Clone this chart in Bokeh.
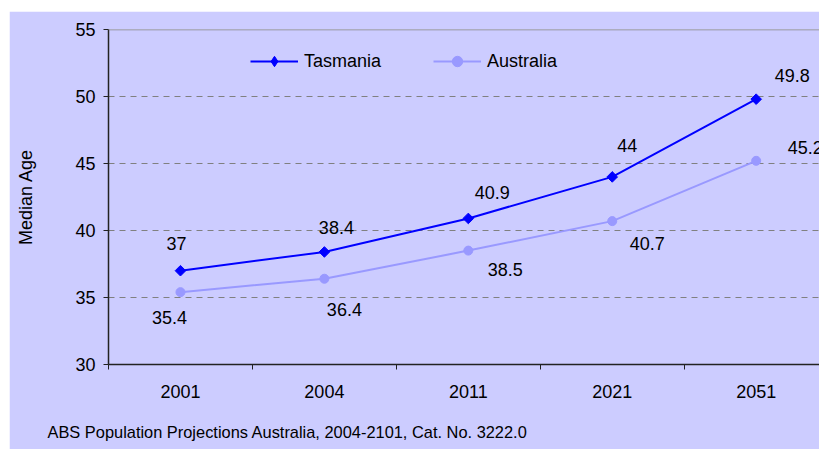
import math
from bokeh.plotting import figure
from bokeh.models import FixedTicker, Range1d, Span, Label, Legend, LegendItem
from bokeh.embed import file_html
from bokeh.resources import INLINE
from bokeh.core.properties import value

# ---- data ----
years = ["2001", "2004", "2011", "2021", "2051"]
tasmania = [37, 38.4, 40.9, 44, 49.8]
australia = [35.4, 36.4, 38.5, 40.7, 45.2]
y_ticks = [30, 35, 40, 45, 50, 55]

# label pixel offsets (styling)
tas_label_dx = [-4, 12, 24, 15, 36]
tas_label_dy = [-27, -24, -26, -31, -24]
aus_label_dx = [-11, 20, 37, 35, 49]
aus_label_dy = [25, 31, 19, 22, -13]

FONT = "Liberation Sans"
BG = "#CCCCFF"
TAS_C = "#0000FF"
AUS_C = "#9999FF"

idx = list(range(len(years)))

p = figure(width=810, height=438, output_backend="svg", toolbar_location=None,
           x_range=Range1d(-0.5, 4.44), y_range=Range1d(y_ticks[0], y_ticks[-1]),
           min_border_left=99, min_border_right=0, min_border_top=18, min_border_bottom=85)
p.margin = (11, 0, 0, 9)
p.background_fill_color = BG
p.border_fill_color = BG
p.outline_line_color = None

# grid
p.xgrid.visible = False
p.ygrid.ticker = FixedTicker(ticks=y_ticks[1:-1])
p.ygrid.grid_line_color = "#808080"
p.ygrid.grid_line_dash = "6 5"
p.ygrid.grid_line_width = 1
p.add_layout(Span(location=y_ticks[-1], dimension="width", line_color="#808080", line_width=1.5))

# axes
p.yaxis.ticker = FixedTicker(ticks=y_ticks)
p.yaxis.axis_label = "Median Age"
p.yaxis.axis_label_text_font = FONT
p.yaxis.axis_label_text_font_size = "18px"
p.yaxis.axis_label_text_font_style = "normal"
p.yaxis.axis_label_text_color = "black"
p.yaxis.axis_label_standoff = 36
p.yaxis.major_tick_out = 5
p.yaxis.major_tick_in = 0
p.yaxis.major_label_standoff = 8

p.xaxis.ticker = FixedTicker(ticks=idx, minor_ticks=[i - 0.5 for i in range(len(years) + 1)])
p.xaxis.major_label_overrides = {i: y for i, y in enumerate(years)}
p.xaxis.major_tick_out = 0
p.xaxis.major_tick_in = 0
p.xaxis.minor_tick_out = 5
p.xaxis.minor_tick_in = 0
p.xaxis.major_label_standoff = 15

for ax in (p.xaxis, p.yaxis):
    ax.axis_line_color = "#222222"
    ax.axis_line_width = 1.5
    ax.major_tick_line_color = "#222222"
    ax.minor_tick_line_color = "#222222"
    ax.major_label_text_font = FONT
    ax.major_label_text_font_size = "18px"
    ax.major_label_text_color = "black"
p.yaxis.minor_tick_line_color = None

# series
aus_line = p.line(idx, australia, line_color=AUS_C, line_width=2)
aus_pts = p.scatter(idx, australia, marker="circle", size=9, fill_color=AUS_C, line_color=AUS_C)
tas_line = p.line(idx, tasmania, line_color=TAS_C, line_width=2)
tas_key = p.scatter(idx, tasmania, marker="diamond", size=0, fill_color=TAS_C, line_color=TAS_C)
tas_pts = p.scatter(idx, tasmania, marker="square", angle=math.pi / 4, size=7.5,
                    fill_color=TAS_C, line_color=TAS_C)

# data labels
p.text(x=idx, y=tasmania, text=[f"{v:g}" for v in tasmania],
       x_offset=tas_label_dx, y_offset=tas_label_dy,
       text_align="center", text_baseline="middle",
       text_font=value(FONT), text_font_size="18px", text_color="black")
p.text(x=idx, y=australia, text=[f"{v:g}" for v in australia],
       x_offset=aus_label_dx, y_offset=aus_label_dy,
       text_align="center", text_baseline="middle",
       text_font=value(FONT), text_font_size="18px", text_color="black")

# legend
legend = Legend(items=[LegendItem(label="Tasmania", renderers=[tas_line, tas_key]),
                       LegendItem(label="Australia", renderers=[aus_line, aus_pts])],
                orientation="horizontal", location=(142, 290),
                glyph_width=48, glyph_height=26, label_standoff=6, spacing=52,
                padding=0, margin=0, background_fill_alpha=0, border_line_alpha=0,
                label_text_font=FONT, label_text_font_size="18px",
                label_text_color="black")
p.add_layout(legend)

# source note
p.add_layout(Label(x=-61, y=-13, x_units="screen", y_units="screen",
                   text="ABS Population Projections Australia, 2004-2101, Cat. No. 3222.0",
                   text_font=FONT, text_font_size="16.4px", text_baseline="middle",
                   text_color="black"), "below")

open("out.html", "w").write(file_html(p, INLINE))
